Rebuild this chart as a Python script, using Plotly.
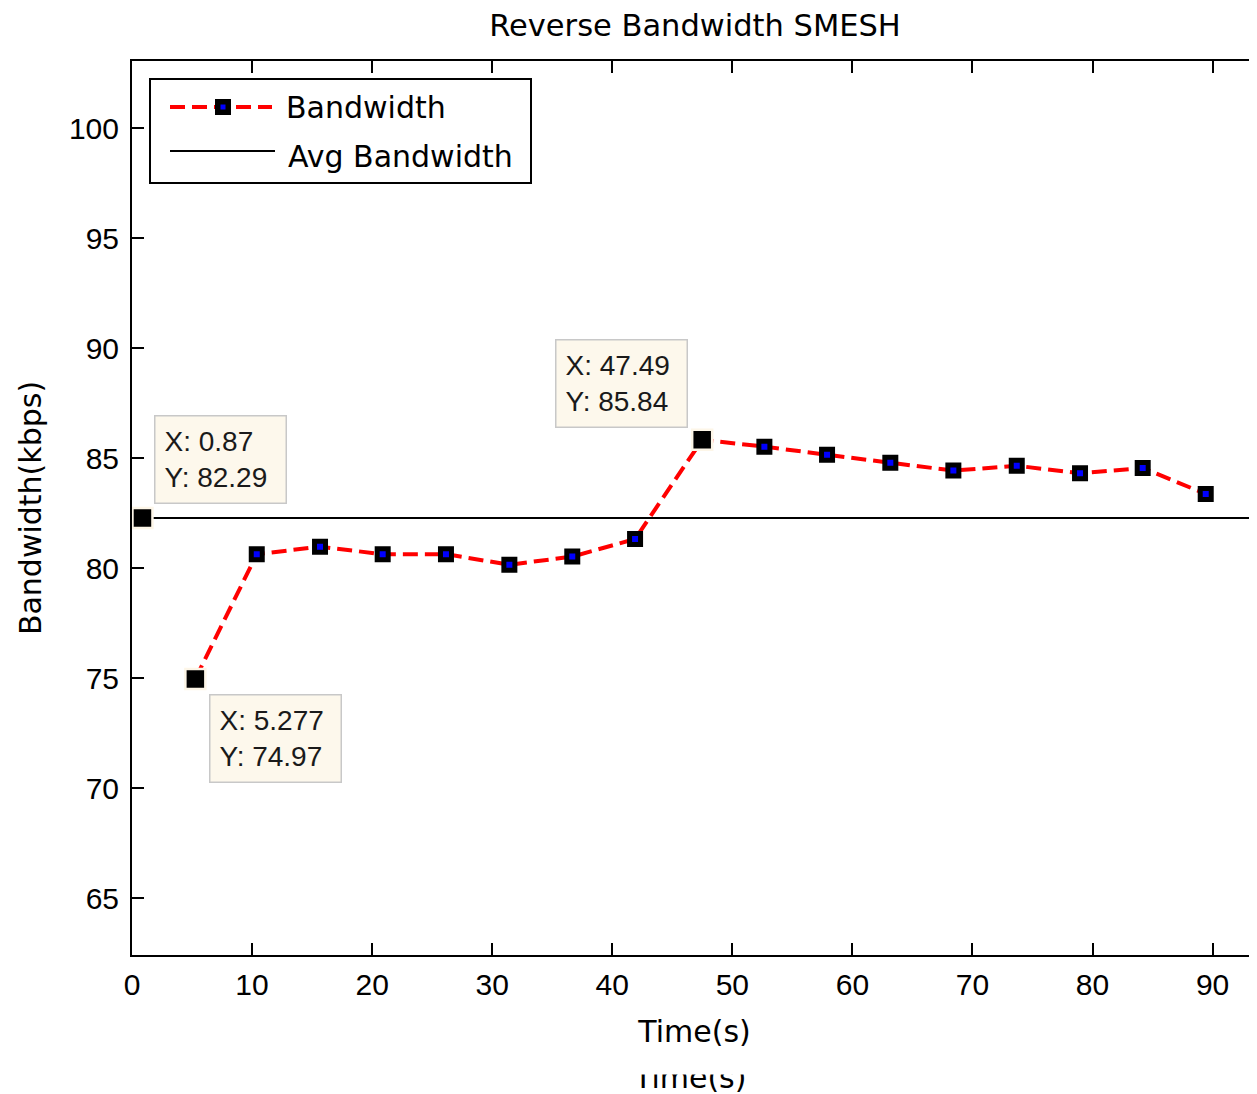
import plotly.graph_objects as go

# ---- data ----
TIME_S = [5.277, 10.39, 15.66, 20.88, 26.15, 31.43, 36.67, 41.9,
          47.49, 52.67, 57.89, 63.16, 68.41, 73.69, 78.96, 84.18, 89.43]
BANDWIDTH_KBPS = [74.97, 80.64, 80.98, 80.64, 80.64, 80.16, 80.53, 81.33,
                  85.84, 85.53, 85.16, 84.80, 84.44, 84.66, 84.32, 84.56, 83.38]
AVG_BANDWIDTH = 82.29
AVG_TIP_TIME = 0.87            # data tip placed on the average line
BANDWIDTH_TIP_INDEX = [0, 8]   # data tips on the bandwidth series
X_TICKS = [0, 10, 20, 30, 40, 50, 60, 70, 80, 90]
Y_TICKS = [65, 70, 75, 80, 85, 90, 95, 100]
X_RANGE = [0, 93.7]
Y_RANGE = [62.42, 103.06]

TITLE = "Reverse Bandwidth SMESH"
X_TITLE = "Time(s)"
Y_TITLE = "Bandwidth(kbps)"
LEGEND_LABELS = ["Bandwidth", "Avg Bandwidth"]

OFF = 8  # page body margin
W, H = 1257 - OFF, 1094 - OFF
ML, MR, MT = 124, 0, 53
PW = W - ML - MR
PH = 894
MB = H - MT - PH


def xp(px):  # screen pixel -> paper
    return (px - OFF - ML) / PW


def yp(py):
    return (MT + PH - (py - OFF)) / PH


TXT = "DejaVu Sans"
NUM = "Liberation Sans"

fig = go.Figure()

# average line across the whole axis range
fig.add_trace(go.Scatter(
    x=X_RANGE, y=[AVG_BANDWIDTH, AVG_BANDWIDTH], mode="lines",
    line=dict(color="black", width=2), showlegend=False, hoverinfo="skip"))

# bandwidth series
fig.add_trace(go.Scatter(
    x=TIME_S, y=BANDWIDTH_KBPS, mode="lines+markers",
    line=dict(color="#ff0000", width=4, dash="15px,7px"),
    marker=dict(symbol="square", size=11, color="#0000ff",
                line=dict(color="black", width=5)),
    showlegend=False))

# data tip highlighted points
tx = [AVG_TIP_TIME] + [TIME_S[i] for i in BANDWIDTH_TIP_INDEX]
ty = [AVG_BANDWIDTH] + [BANDWIDTH_KBPS[i] for i in BANDWIDTH_TIP_INDEX]
fig.add_trace(go.Scatter(
    x=tx, y=ty, mode="markers",
    marker=dict(symbol="square", size=20, color="black",
                line=dict(color="#fdf6e8", width=2.5)),
    showlegend=False))

annotations = []
tip_pos = [  # xanchor, yanchor, xshift, yshift
    ("left", "bottom", 12, 14),
    ("left", "top", 14, -15),
    ("right", "bottom", -14, 12),
]
for (xa, ya, xs, ys), x, y in zip(tip_pos, tx, ty):
    annotations.append(dict(
        x=x, y=y, xref="x", yref="y", showarrow=False,
        text=f"X: {x:.4g}<br>Y: {y:.4g}", align="left",
        xanchor=xa, yanchor=ya, xshift=xs, yshift=ys,
        font=dict(family=NUM, size=28, color="#1a1a1a"),
        bgcolor="#fdf8ec", bordercolor="#c8c8c8", borderwidth=1.5,
        borderpad=9, width=112, height=68))

# legend (drawn manually to match the long line samples)
shapes = [
    dict(type="rect", xref="paper", yref="paper",
         x0=xp(150), x1=xp(531), y0=yp(183), y1=yp(79),
         line=dict(color="black", width=2), fillcolor="white", layer="above"),
    dict(type="line", xref="paper", yref="paper",
         x0=xp(170), x1=xp(272), y0=yp(107), y1=yp(107),
         line=dict(color="#ff0000", width=4, dash="15px,7px"), layer="above"),
    dict(type="rect", xref="paper", yref="paper",
         x0=xp(215), x1=xp(231), y0=yp(115), y1=yp(99),
         line=dict(width=0), fillcolor="black", layer="above"),
    dict(type="rect", xref="paper", yref="paper",
         x0=xp(220.5), x1=xp(225.5), y0=yp(109.5), y1=yp(104.5),
         line=dict(width=0), fillcolor="#0000ff", layer="above"),
    dict(type="line", xref="paper", yref="paper",
         x0=xp(170), x1=xp(275), y0=yp(151), y1=yp(151),
         line=dict(color="black", width=2), layer="above"),
]
annotations.append(dict(
    xref="paper", yref="paper", x=xp(284), y=yp(107), showarrow=False,
    xanchor="left", yanchor="middle", text=LEGEND_LABELS[0],
    font=dict(family=TXT, size=30, color="black")))
annotations.append(dict(
    xref="paper", yref="paper", x=xp(286), y=yp(156), showarrow=False,
    xanchor="left", yanchor="middle", text=LEGEND_LABELS[1],
    font=dict(family=TXT, size=30, color="black")))

# duplicated, clipped x label visible at the bottom of the reference image
annotations.append(dict(
    xref="paper", yref="paper", x=xp(689), y=yp(1077), showarrow=False,
    xanchor="center", yanchor="middle", text=X_TITLE,
    font=dict(family=TXT, size=30, color="black")))
annotations.append(dict(
    xref="paper", yref="paper", x=xp(689), y=yp(1075), showarrow=False,
    xanchor="center", yanchor="bottom", text=" ", bgcolor="white",
    width=170, height=22, borderpad=0,
    font=dict(family=TXT, size=10, color="white")))

fig.update_layout(
    width=W, height=H,
    margin=dict(l=ML, r=MR, t=MT, b=MB, autoexpand=False),
    paper_bgcolor="white", plot_bgcolor="white",
    showlegend=False,
    title=dict(text=TITLE, x=xp(695), xref="paper", xanchor="center",
               y=1 - (25 - OFF) / H, yref="container", yanchor="middle",
               font=dict(family=TXT, size=30.5, color="black")),
    xaxis=dict(range=X_RANGE, tickvals=X_TICKS, ticks="inside", ticklen=12,
               tickwidth=1.5, tickcolor="black", showline=True, linecolor="black",
               linewidth=2, mirror="ticks", showgrid=False, zeroline=False,
               tickfont=dict(family=NUM, size=30, color="black"),
               ticklabelstandoff=2,
               title=dict(text=X_TITLE, standoff=21,
                          font=dict(family=TXT, size=30, color="black"))),
    yaxis=dict(range=Y_RANGE, tickvals=Y_TICKS, ticks="inside", ticklen=12,
               tickwidth=1.5, tickcolor="black", showline=True, linecolor="black",
               linewidth=2, mirror=False, showgrid=False, zeroline=False,
               tickfont=dict(family=NUM, size=30, color="black"),
               ticklabelstandoff=5,
               title=dict(text=Y_TITLE, standoff=18,
                          font=dict(family=TXT, size=30, color="black"))),
    shapes=shapes,
    annotations=annotations,
)

fig.write_html("out.html")
